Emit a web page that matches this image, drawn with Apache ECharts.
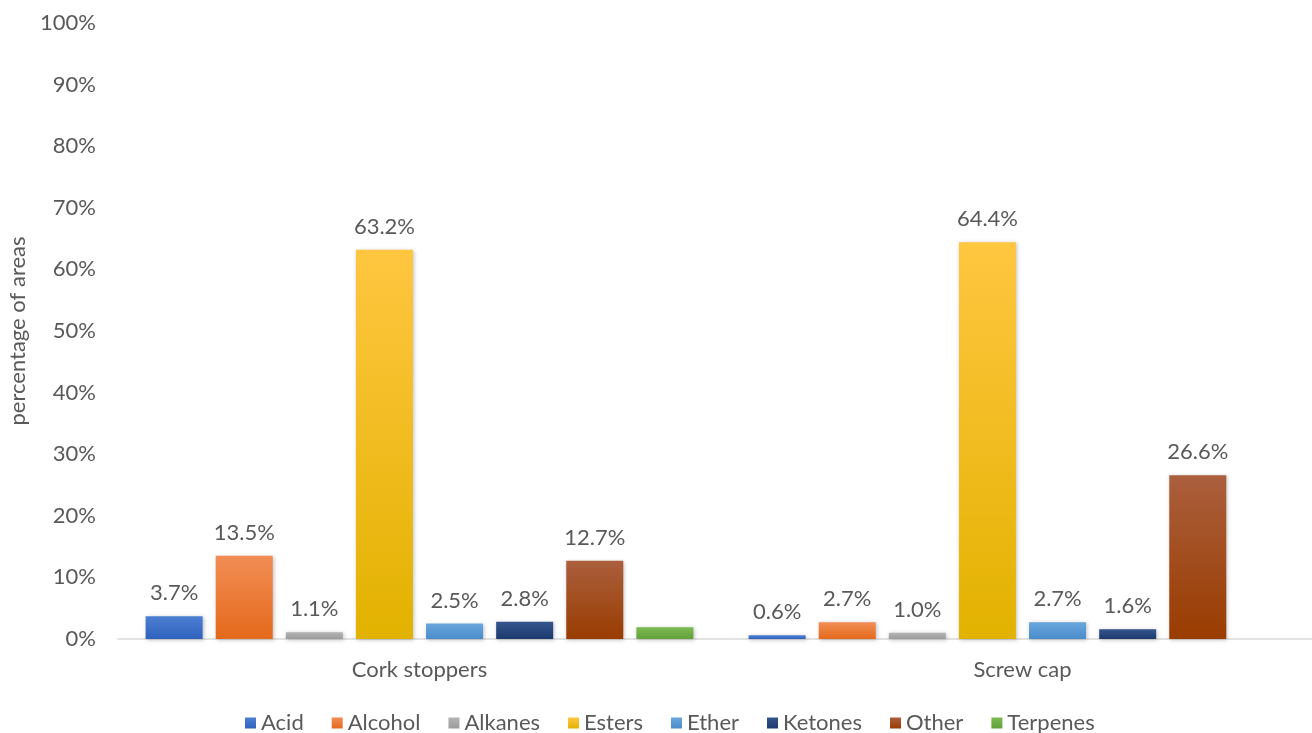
<!DOCTYPE html>
<html>
<head>
<meta charset="utf-8">
<script src="https://cdn.jsdelivr.net/npm/echarts@6/dist/echarts.min.js"></script>
<style>
html,body{margin:0;padding:0;background:#fff;}
#chart{width:1312px;height:733px;}
</style>
</head>
<body>
<div id="chart"></div>
<script>
const categories = ['Cork stoppers', 'Screw cap'];
const seriesNames = ['Acid', 'Alcohol', 'Alkanes', 'Esters', 'Ether', 'Ketones', 'Other', 'Terpenes'];
const acid = [3.7, 0.6];
const alcohol = [13.5, 2.7];
const alkanes = [1.1, 1.0];
const esters = [63.2, 64.4];
const ether = [2.5, 2.7];
const ketones = [2.8, 1.6];
const other = [12.7, 26.6];
const terpenes = [1.9, null];
const yTicks = [0, 10, 20, 30, 40, 50, 60, 70, 80, 90, 100];

const seriesValues = [acid, alcohol, alkanes, esters, ether, ketones, other, terpenes];
const showLabels = [true, true, true, true, true, true, true, false];
const gradients = [
  ['#4d7fd3', '#2f62bd'],
  ['#f28d55', '#e4691b'],
  ['#b3b3b3', '#9c9c9c'],
  ['#ffc640', '#e2b200'],
  ['#68a6dd', '#4a8ccb'],
  ['#34558e', '#1d3a6e'],
  ['#ab5f3d', '#993c00'],
  ['#7cba52', '#62a13a']
];
const textColor = '#595959';
const fontFamily = 'Lato, "Open Sans", sans-serif';

const chart = echarts.init(document.getElementById('chart'), null, {renderer: 'canvas'});
const series = seriesNames.map((name, i) => ({
  name: name,
  type: 'bar',
  data: seriesValues[i].map(v => v === null ? '-' : v),
  barWidth: 57,
  barGap: '23%',
  itemStyle: {
    color: new echarts.graphic.LinearGradient(0, 0, 0, 1, [
      {offset: 0, color: gradients[i][0]},
      {offset: 1, color: gradients[i][1]}
    ]),
    shadowBlur: 4,
    shadowColor: 'rgba(0,0,0,0.25)',
    shadowOffsetX: 1,
    shadowOffsetY: 1
  },
  label: {
    show: showLabels[i],
    position: 'top',
    distance: 12,
    color: textColor,
    fontSize: 22,
    fontFamily: fontFamily,
    formatter: p => p.value.toFixed(1) + '%'
  }
}));

chart.setOption({
  animation: false,
  backgroundColor: '#fff',
  legend: {
    top: 707,
    left: 240,
    itemWidth: 11,
    itemHeight: 11,
    itemGap: 28,
    icon: 'rect',
    textStyle: {color: textColor, fontSize: 22, fontFamily: fontFamily},
    data: seriesNames
  },
  grid: {left: 118, top: 23, width: 1206, height: 616, containLabel: false, outerBoundsMode: 'none'},
  xAxis: {
    type: 'category',
    data: categories,
    axisTick: {show: false},
    axisLine: {lineStyle: {color: '#d9d9d9', width: 1.5}},
    axisLabel: {color: textColor, fontSize: 22, fontFamily: fontFamily, margin: 20}
  },
  yAxis: {
    type: 'value',
    min: yTicks[0],
    max: yTicks[yTicks.length - 1],
    interval: 10,
    name: 'percentage of areas',
    nameLocation: 'middle',
    nameGap: 88,
    nameTextStyle: {color: textColor, fontSize: 22, fontFamily: fontFamily},
    axisLine: {show: false},
    axisTick: {show: false},
    splitLine: {show: false},
    axisLabel: {color: textColor, fontSize: 22, fontFamily: fontFamily, margin: 22, formatter: '{value}%'}
  },
  series: series
});
</script>
</body>
</html>
